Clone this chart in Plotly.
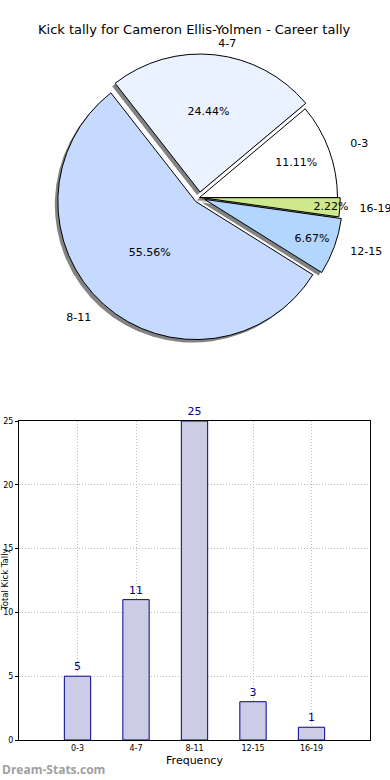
import plotly.graph_objects as go

categories = ["0-3", "4-7", "8-11", "12-15", "16-19"]
counts = [5, 11, 25, 3, 1]
slice_colors = ["#ffffff", "#eaf2ff", "#c6d9fe", "#b3d6ff", "#cde98b"]
pulls = [0.0, 0.04, 0.04, 0.04, 0.02]
label_pulls = [0.1, 0.04, 0.1, 0.1, 0.1]
title_text = "Kick tally for Cameron Ellis-Yolmen - Career tally"
y_ticks = [0, 5, 10, 15, 20, 25]

W, H = 390, 780
ML, MR = 19, 20
PW = W - ML - MR

def px_x(p):
    return (p - ML) / PW

def px_y(p):
    return (H - p) / H

pie_left, pie_right, pie_top, pie_bot = 51, 348, 54, 341
sh = 3
cx, cy = (pie_left + pie_right) / 2, (pie_top + pie_bot) / 2
half = (pie_right - pie_left) / 2 * (1 + max(label_pulls)) / (1 + max(pulls))

fig = go.Figure()

# shadow pie
fig.add_trace(go.Pie(
    labels=categories, values=counts, sort=False, direction="counterclockwise",
    rotation=50, pull=pulls,
    marker=dict(colors=["rgba(90,90,90,0.75)"] * 5, line=dict(width=0)),
    textinfo="none",
    domain=dict(x=[px_x(pie_left - sh), px_x(pie_right - sh)],
                y=[px_y(pie_bot + sh), px_y(pie_top + sh)]),
    showlegend=False, hoverinfo="skip",
))

# invisible pie carrying the outside category labels
fig.add_trace(go.Pie(
    labels=categories, values=counts, sort=False, direction="counterclockwise",
    rotation=50, pull=label_pulls,
    marker=dict(colors=["rgba(0,0,0,0)"] * 5, line=dict(width=0)),
    textinfo="label", textposition="outside",
    textfont=dict(family="DejaVu Sans", size=11, color="#000"),
    domain=dict(x=[px_x(cx - half), px_x(cx + half)],
                y=[px_y(cy + half), px_y(cy - half)]),
    showlegend=False, hoverinfo="skip",
))

fig.add_trace(go.Pie(
    labels=categories, values=counts, sort=False, direction="counterclockwise",
    rotation=50, pull=pulls,
    marker=dict(colors=slice_colors, line=dict(color="#000", width=1)),
    texttemplate="%{percent:.2%}", textposition="inside",
    insidetextorientation="horizontal",
    textfont=dict(family="DejaVu Sans", size=11, color="#000"),
    domain=dict(x=[px_x(pie_left), px_x(pie_right)],
                y=[px_y(pie_bot), px_y(pie_top)]),
    showlegend=False, hoverinfo="label+value",
))

fig.add_trace(go.Bar(
    x=list(range(len(categories))), y=counts, width=0.45,
    marker=dict(color="#cccce6", line=dict(color="#00008b", width=1)),
    text=[str(c) for c in counts], textposition="outside",
    textfont=dict(family="DejaVu Sans", size=11, color="#00008b"),
    cliponaxis=False, showlegend=False,
    xaxis="x", yaxis="y",
))

grid = dict(showgrid=True, gridcolor="#bdbdbd", griddash="1px,2px", gridwidth=1)

fig.update_layout(
    width=W, height=H,
    margin=dict(l=ML, r=MR, t=0, b=0, autoexpand=False),
    paper_bgcolor="#fff", plot_bgcolor="#fff",
    uniformtext=dict(minsize=11, mode="show"),
    xaxis=dict(domain=[0, 1], range=[-1, 5], tickmode="array",
               tickvals=list(range(len(categories))), ticktext=categories,
               tickfont=dict(family="DejaVu Sans", size=8, color="#000"),
               title=dict(text="Frequency", standoff=4,
                          font=dict(family="DejaVu Sans", size=11, color="#000")),
               showline=True, mirror=True, linecolor="#000", linewidth=1,
               ticks="", zeroline=False, automargin=False, **grid),
    yaxis=dict(domain=[px_y(740), px_y(421)], range=[0, 25], tickvals=y_ticks,
               tickfont=dict(family="DejaVu Sans", size=8, color="#000"),
               showline=True, mirror=True, linecolor="#000", linewidth=1,
               ticks="outside", ticklen=3, tickcolor="#000",
               zeroline=False, automargin=False, **grid),
    annotations=[
        dict(text=title_text, xref="paper", yref="paper",
             x=px_x(194.5), y=px_y(30), xanchor="center", yanchor="middle",
             showarrow=False, font=dict(family="DejaVu Sans", size=13, color="#000")),
        dict(text="Total Kick Tally", textangle=-90, xref="paper", yref="paper",
             x=px_x(5), y=px_y(580), xanchor="center", yanchor="middle",
             showarrow=False, font=dict(family="DejaVu Sans", size=8.5, color="#000")),
        dict(text="<b>Dream-Stats.com</b>", xref="paper", yref="paper",
             x=px_x(0), y=px_y(769), xanchor="left", yanchor="middle",
             showarrow=False, font=dict(family="Open Sans", size=12, color="#a0a0a0")),
    ],
)

fig.write_html("out.html", config={"displayModeBar": False},
               post_script="document.body.style.margin='0';")
